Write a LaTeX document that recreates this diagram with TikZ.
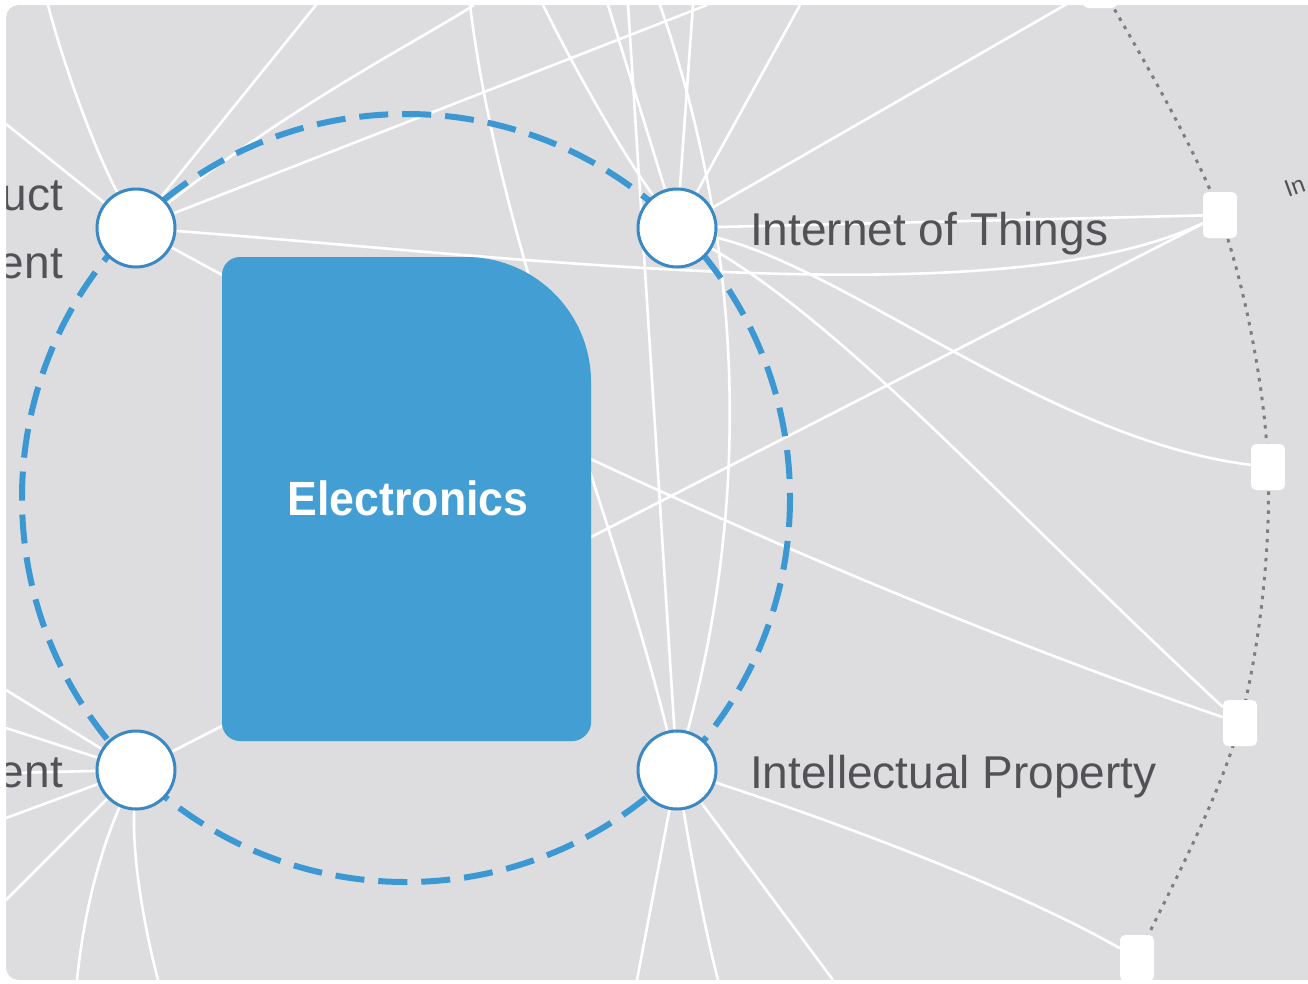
\documentclass[tikz,border=0pt]{standalone}
\usepackage{fontspec}
\setmainfont{Liberation Sans}
\pgfdeclarelayer{back}
\pgfdeclarelayer{mid}
\pgfdeclarelayer{front}
\pgfsetlayers{back,mid,main,front}
\definecolor{bggray}{RGB}{221,221,223}
\definecolor{boxblue}{RGB}{67,159,211}
\definecolor{dashblue}{RGB}{60,152,210}
\definecolor{nodeblue}{RGB}{58,137,196}
\definecolor{labgray}{RGB}{82,82,86}
\definecolor{dotgray}{RGB}{125,125,130}
\tikzset{
  hub/.style={circle, minimum size=78pt, inner sep=0pt, fill=white, draw=nodeblue, line width=3pt},
  sq/.style={rectangle, minimum width=34pt, minimum height=46pt, inner sep=0pt, fill=white, rounded corners=5pt},
  edge/.style={draw=white, line width=2.6pt},
  ring/.style={draw=dashblue, line width=6pt, dash pattern=on 29pt off 14pt},
  dotarc/.style={draw=dotgray, line width=3pt, dash pattern=on 3.5pt off 6pt},
  lab/.style={text=labgray, font=\fontsize{46}{50}\selectfont, inner sep=0pt},
}
\begin{document}
\begin{tikzpicture}[x=1pt,y=-1pt]
\useasboundingbox (0,0) rectangle (1308,983);
\begin{pgfonlayer}{back}
  \fill[white] (0,0) rectangle (1308,983);
  \fill[bggray, rounded corners=12pt] (6,5) rectangle (1340,980);
\end{pgfonlayer}

% dashed ring
\draw[ring] (406,498) circle[radius=384];

% Electronics box
\fill[boxblue] (240,257) -- (466,257) .. controls (535,257) and (591,313) .. (591,382)
  -- (591,723) .. controls (591,733) and (581,741) .. (573,741)
  -- (240,741) .. controls (230,741) and (222,733) .. (222,723)
  -- (222,275) .. controls (222,265) and (230,257) .. (240,257) -- cycle;
\node[font=\bfseries\fontsize{48}{50}\selectfont, text=white, inner sep=0pt] (elec) at (408,498) {\scalebox{0.93}[1]{Electronics}};

% hub nodes
\node[hub] (A) at (136,228) {};
\node[hub] (B) at (677,228) {};
\node[hub] (C) at (136,770) {};
\node[hub] (D) at (677,770) {};

% squares
\node[sq] (T) at (1100,-15) {};
\node[sq] (S1) at (1220,215) {};
\node[sq] (S2) at (1268,467) {};
\node[sq] (S3) at (1240,723) {};
\node[sq] (S4) at (1137,958) {};
\coordinate (S5) at (1075,1070);

% labels
\node[lab, anchor=base west] (lIoT) at (750,245) {Internet of Things};
\node[lab, anchor=base west] (lIP) at (750,788) {Intellectual Property};
\node[lab, anchor=base east] (lA1) at (63,210) {uct};
\node[lab, anchor=base east] (lA2) at (63,278) {ent};
\node[lab, anchor=base east] (lC1) at (63,787) {ent};
\node[text=labgray, font=\fontsize{24}{26}\selectfont, inner sep=0pt, rotate=20, anchor=base west] (lIn) at (1288,198) {In};

% edge end points
\coordinate (a1) at (48,5);
\coordinate (a2) at (6,124);
\coordinate (a3) at (316,5);
\coordinate (a4) at (474,5);
\coordinate (a5) at (707,5);
\coordinate (b1) at (543,5);
\coordinate (b2) at (608,5);
\coordinate (b3) at (693,5);
\coordinate (b4) at (800,5);
\coordinate (c1) at (6,690);
\coordinate (c2) at (6,728);
\coordinate (c3) at (6,773);
\coordinate (c4) at (6,818);
\coordinate (c5) at (6,900);
\coordinate (c6) at (77,980);
\coordinate (c7) at (158,980);
\coordinate (d1) at (470,5);
\coordinate (d2) at (628,5);
\coordinate (d3) at (660,5);
\coordinate (d4) at (637,980);
\coordinate (d5) at (718,980);
\coordinate (d6) at (833,980);

\begin{pgfonlayer}{mid}
  % dotted arc through squares
  \draw[dotarc] plot[smooth, tension=0.55] coordinates {(T) (S1) (S2) (S3) (S4) (S5)};
  % from A
  \draw[edge] (A) .. controls (95,150) and (65,70) .. (a1);
  \draw[edge] (A) -- (a2);
  \draw[edge] (A) -- (a3);
  \draw[edge] (A) .. controls (300,100) and (420,40) .. (a4);
  \draw[edge] (A) -- (a5);
  \draw[edge] (A) .. controls (500,255) and (1000,320) .. (S1);
  \draw[edge] (A) .. controls (450,400) and (850,590) .. (S3);
  % from B
  \draw[edge] (B) .. controls (620,150) and (570,60) .. (b1);
  \draw[edge] (B) -- (b2);
  \draw[edge] (B) -- (b3);
  \draw[edge] (B) -- (b4);
  \draw[edge] (B) -- (T);
  \draw[edge] (B) -- (S1);
  \draw[edge] (B) .. controls (850,270) and (1050,440) .. (S2);
  \draw[edge] (B) .. controls (850,330) and (1000,500) .. (S3);
  % from C
  \draw[edge] (C) -- (c1);
  \draw[edge] (C) -- (c2);
  \draw[edge] (C) -- (c3);
  \draw[edge] (C) -- (c4);
  \draw[edge] (C) -- (c5);
  \draw[edge] (C) .. controls (105,840) and (85,900) .. (c6);
  \draw[edge] (C) .. controls (132,860) and (145,930) .. (c7);
  \draw[edge] (C) -- (S1);
  % to D
  \draw[edge] (d1) .. controls (500,250) and (610,500) .. (D);
  \draw[edge] (d2) -- (D);
  \draw[edge] (d3) .. controls (745,250) and (750,500) .. (D);
  \draw[edge] (D) -- (d4);
  \draw[edge] (D) .. controls (690,850) and (705,930) .. (d5);
  \draw[edge] (D) -- (d6);
  \draw[edge] (D) .. controls (800,810) and (1000,880) .. (S4);
\end{pgfonlayer}

\begin{pgfonlayer}{front}
  \path[fill=white, even odd rule] (-2,-2) rectangle (1310,985) {[rounded corners=12pt] (6,5) rectangle (1340,980)};
\end{pgfonlayer}
\end{tikzpicture}
\end{document}
